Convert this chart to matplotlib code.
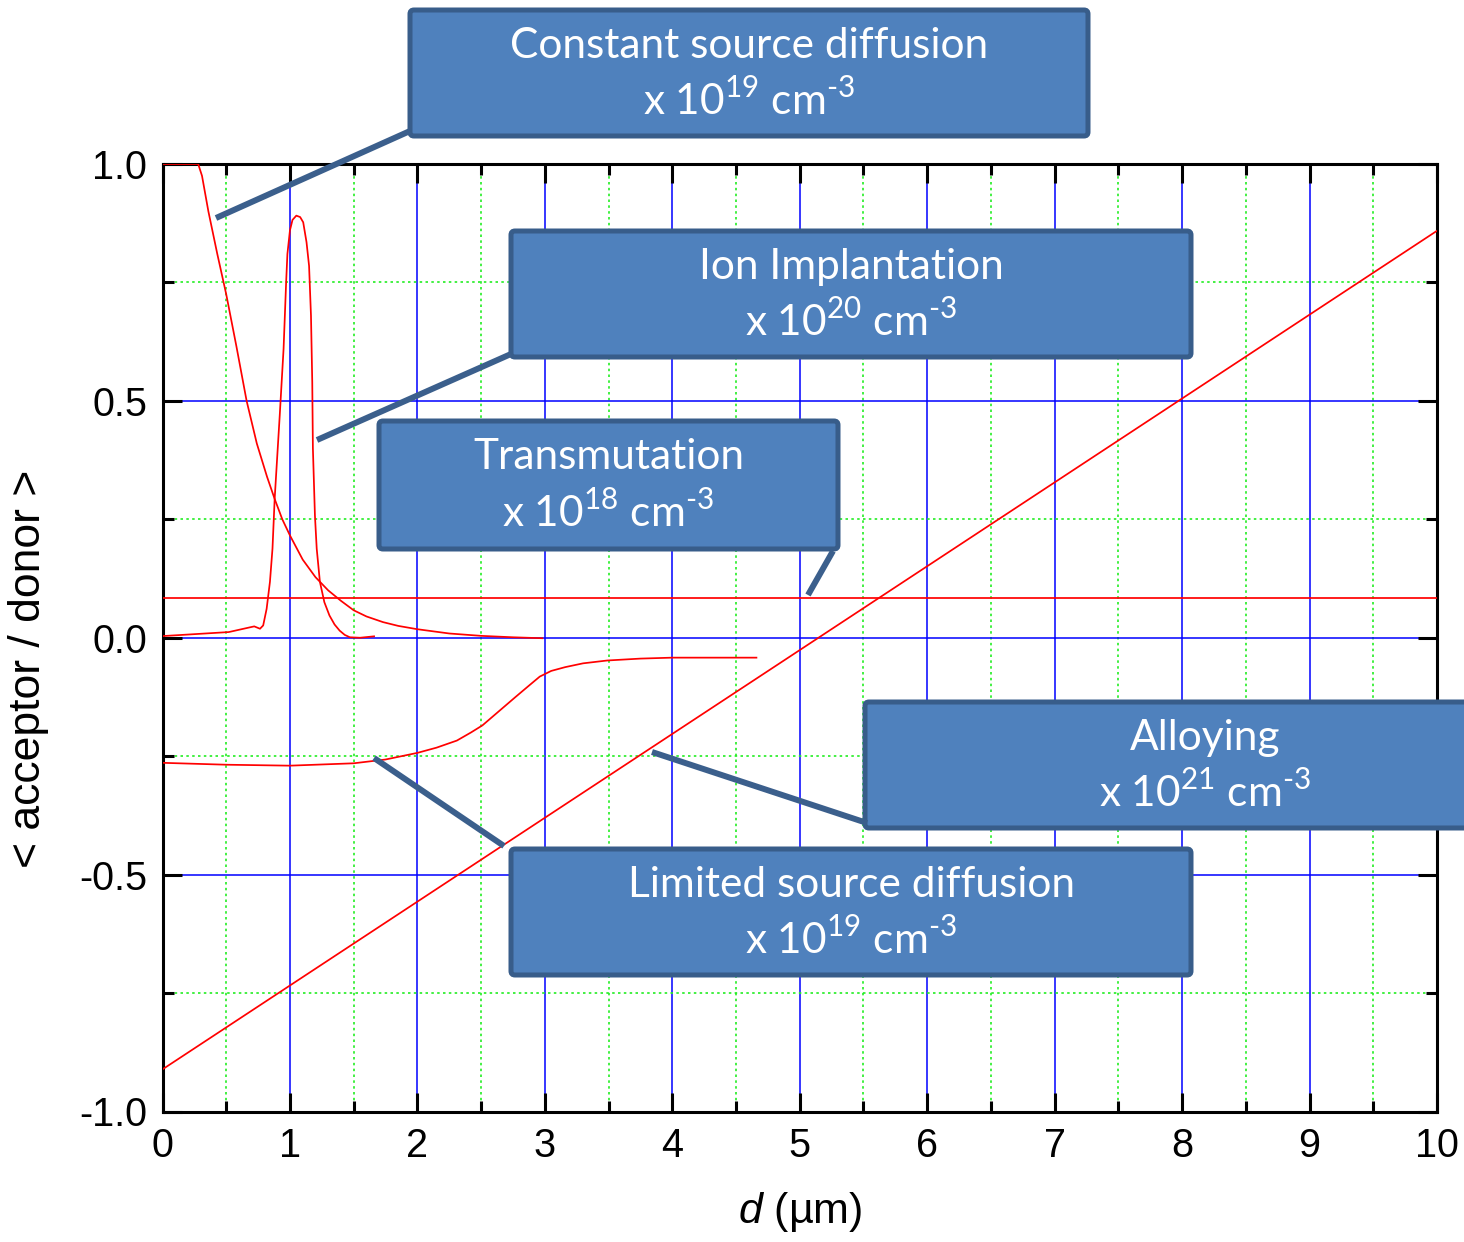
import matplotlib
matplotlib.use("Agg")
import matplotlib.pyplot as plt
from matplotlib.patches import FancyBboxPatch
from matplotlib.ticker import MultipleLocator

plt.rcParams["font.family"] = ["Liberation Sans", "DejaVu Sans"]
plt.rcParams["axes.unicode_minus"] = False
plt.rcParams["mathtext.fontset"] = "custom"
plt.rcParams["mathtext.rm"] = "Lato"
plt.rcParams["mathtext.it"] = "Liberation Sans:italic"

# --- data ---
const_x = [0.0, 0.28, 0.31, 0.36, 0.43, 0.50, 0.58, 0.66, 0.74, 0.82, 0.88, 0.94,
           1.0, 1.1, 1.2, 1.3, 1.4, 1.5, 1.6, 1.73, 1.85, 2.0, 2.25, 2.5, 2.75, 2.98]
const_y = [1.0, 1.0, 0.975, 0.9, 0.81, 0.725, 0.615, 0.5, 0.41, 0.34, 0.293, 0.25,
           0.216, 0.165, 0.128, 0.1, 0.078, 0.058, 0.045, 0.033, 0.025, 0.018,
           0.009, 0.004, 0.001, -0.001]

ion_x = [0.0, 0.52, 0.686, 0.72, 0.765, 0.79, 0.817, 0.843, 0.863, 0.88, 0.92,
         0.95, 0.97, 0.98, 1.0, 1.02, 1.05, 1.08, 1.104, 1.13, 1.15, 1.165, 1.175,
         1.18, 1.196, 1.21, 1.235, 1.27, 1.31, 1.35, 1.39, 1.43, 1.47, 1.55, 1.66]
ion_y = [0.0035, 0.012, 0.022, 0.024, 0.019, 0.026, 0.061, 0.118, 0.188, 0.293, 0.47,
         0.61, 0.75, 0.81, 0.86, 0.882, 0.891, 0.888, 0.877, 0.835, 0.785, 0.68, 0.54,
         0.40, 0.258, 0.188, 0.118, 0.075, 0.047, 0.028, 0.015, 0.006, 0.001, 0.0, 0.003]

trans_x = [0.0, 10.0]
trans_y = [0.084, 0.084]

alloy_x = [0.0, 10.0]
alloy_y = [-0.911, 0.859]

limited_x = [0.0, 0.5, 1.0, 1.5, 1.75, 2.0, 2.15, 2.31, 2.42, 2.51, 2.64, 2.77,
             2.88, 2.96, 3.05, 3.16, 3.3, 3.49, 3.75, 4.0, 4.66]
limited_y = [-0.264, -0.268, -0.27, -0.265, -0.257, -0.243, -0.232, -0.217, -0.2,
             -0.185, -0.155, -0.125, -0.1, -0.082, -0.07, -0.062, -0.054, -0.048,
             -0.044, -0.042, -0.042]

x_ticks = [0, 1, 2, 3, 4, 5, 6, 7, 8, 9, 10]
y_ticks = [-1.0, -0.5, 0.0, 0.5, 1.0]

# --- labels of the boxes (pixel layout: left, top, width, height) ---
boxes = [
    ("Constant source diffusion", "19", (410, 10, 678, 126)),
    ("Ion Implantation", "20", (511, 231, 680, 126)),
    ("Transmutation", "18", (379, 421, 459, 128)),
    ("Alloying", "21", (865, 702, 680, 126)),
    ("Limited source diffusion", "19", (511, 849, 680, 126)),
]
connectors = [
    ((216, 218), (410, 131)),
    ((317, 440), (511, 354)),
    ((833, 551), (808, 595)),
    ((652, 752), (867, 823)),
    ((374, 758), (504, 846)),
]

W, H = 1464, 1242
fig = plt.figure(figsize=(W / 100, H / 100), dpi=100)
ax = fig.add_axes([162.5 / W, 1 - 1111.5 / H, (1437 - 162.5) / W, (1111.5 - 164) / H])

for xs, ys in [(const_x, const_y), (ion_x, ion_y), (trans_x, trans_y),
               (alloy_x, alloy_y), (limited_x, limited_y)]:
    ax.plot(xs, ys, color="red", lw=1.25, zorder=3)

ax.set_xlim(0, 10)
ax.set_ylim(-1.0, 1.0)
ax.set_xticks(x_ticks)
ax.set_yticks(y_ticks)
ax.set_yticklabels([f"{v:.1f}" for v in y_ticks])
ax.xaxis.set_minor_locator(MultipleLocator(0.5))
ax.yaxis.set_minor_locator(MultipleLocator(0.25))

ax.grid(which="major", color="#0000FF", lw=1.1, ls="-")
ax.grid(which="minor", color="#22EE22", lw=1.2, ls=(0, (1.5, 2.0)))
ax.set_axisbelow(True)

ax.tick_params(which="both", direction="in", top=True, right=True, width=2.2, colors="black")
ax.tick_params(which="major", length=14, labelsize=28.5, pad=11)
ax.tick_params(which="minor", length=8)
for s in ax.spines.values():
    s.set_linewidth(2.2)

ax.set_xlabel("$d$ (µm)", fontsize=31)
ax.set_ylabel("< acceptor / donor >", fontsize=32)
ax.xaxis.set_label_coords(0.5, -0.083)
ax.yaxis.set_label_coords(-0.089, 0.467)

# --- overlay in pixel coordinates for boxes ---
ov = fig.add_axes([0, 0, 1, 1], zorder=5)
ov.set_xlim(0, W)
ov.set_ylim(H, 0)
ov.axis("off")
ov.patch.set_visible(False)

for (a, b) in connectors:
    ov.plot([a[0], b[0]], [a[1], b[1]], color="#3B5F8C", lw=4.3, solid_capstyle="butt")

for title, exp, (l, t, w, h) in boxes:
    ov.add_patch(FancyBboxPatch((l, t), w, h, boxstyle="round,pad=0,rounding_size=4",
                                facecolor="#4F81BD", edgecolor="#385D8A", lw=3.6,
                                clip_on=False))
    cx = l + w / 2
    ov.text(cx, t + h * 0.285, title, family="Lato", fontsize=30.5, color="white",
            ha="center", va="center")
    ov.text(cx, t + h * 0.715, "x 10$^{" + exp + "}$ cm$^{\u2010" + "3}$", family="Lato",
            fontsize=30.5, color="white", ha="center", va="center")

fig.savefig("out.png", dpi=100)
